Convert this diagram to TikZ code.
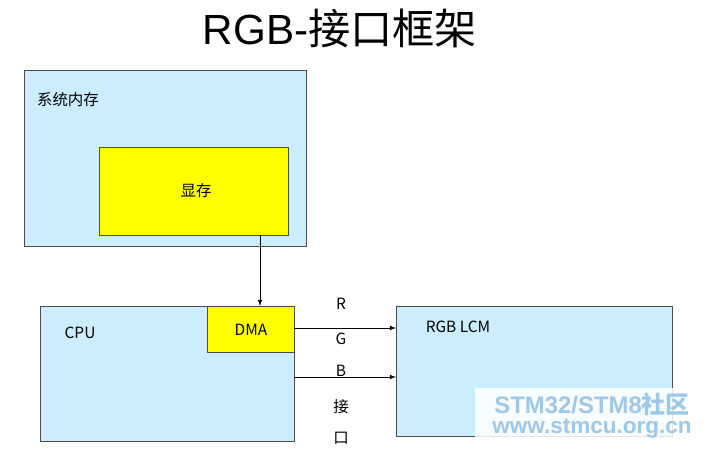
\documentclass[tikz,border=0pt]{standalone}
\usepackage{fontspec}
\setmainfont{Liberation Sans}
\newfontfamily\cjk{Noto Sans CJK SC}
\usetikzlibrary{positioning}
\definecolor{memblue}{HTML}{CCECFF}
\definecolor{vramyellow}{HTML}{FFFF00}
\definecolor{wmark}{HTML}{9DC8E6}
\tikzset{
  blk/.style={draw=black!70, fill=memblue, line width=0.5pt},
  ylw/.style={draw=black!70, fill=vramyellow, line width=0.5pt},
  lbl/.style={font=\fontsize{11}{13}\selectfont\cjk, inner sep=0pt},
  link/.style={-latex, line width=0.5pt}
}
\begin{document}
\begin{tikzpicture}[x=0.025cm, y=-0.025cm]
		\useasboundingbox (0,0) rectangle (712,449);
		
		%Title
		\node (title) at (340,28) [font=\fontsize{30}{34}\selectfont]{RGB-{\cjk 接口框架}};
		
		%System memory and video memory
		\draw[blk] (24,70) rectangle (306,246);
		\node (sysmem) at (68,100) [lbl]{系统内存};
		\draw[ylw] (99,147) rectangle (288,235);
		\node (vram) at (196,191) [lbl]{显存};
		\coordinate (vramOut) at (260,235);
		
		%CPU with DMA
		\draw[blk] (40,306) rectangle (294,441);
		\node (cpu) at (80,333) [lbl]{CPU};
		\draw[ylw] (207,306) rectangle (294,352);
		\node (dma) at (251,330) [lbl]{DMA};
		\coordinate (dmaIn) at (260,306);
		
		%LCM
		\draw[blk] (396,306) rectangle (672,436);
		\node (lcm) at (458,327) [lbl]{RGB LCM};
		
		%Connections
		\draw[link] (vramOut) -- (dmaIn);
		\coordinate (outA) at (294,328);
		\coordinate (inA) at (396,328);
		\coordinate (outB) at (294,377);
		\coordinate (inB) at (396,377);
		\draw[link] (outA) -- (inA);
		\draw[link] (outB) -- (inB);
		
		%Interface label
		\foreach \ch/\yy in {R/304, G/339, B/371, 接/407, 口/438}
			\node at (341,\yy) [lbl]{\ch};
		
		%Watermark
		\fill[white, opacity=0.85] (475,388) rectangle (712,442);
		\node at (592,404) [font=\fontsize{17}{19}\selectfont\bfseries, text=wmark, inner sep=0pt]{STM32/STM8{\cjk 社区}};
		\node at (592,429) [font=\fontsize{16}{18}\selectfont\bfseries, text=wmark, inner sep=0pt]{www.stmcu.org.cn};
		
\end{tikzpicture}
\end{document}
